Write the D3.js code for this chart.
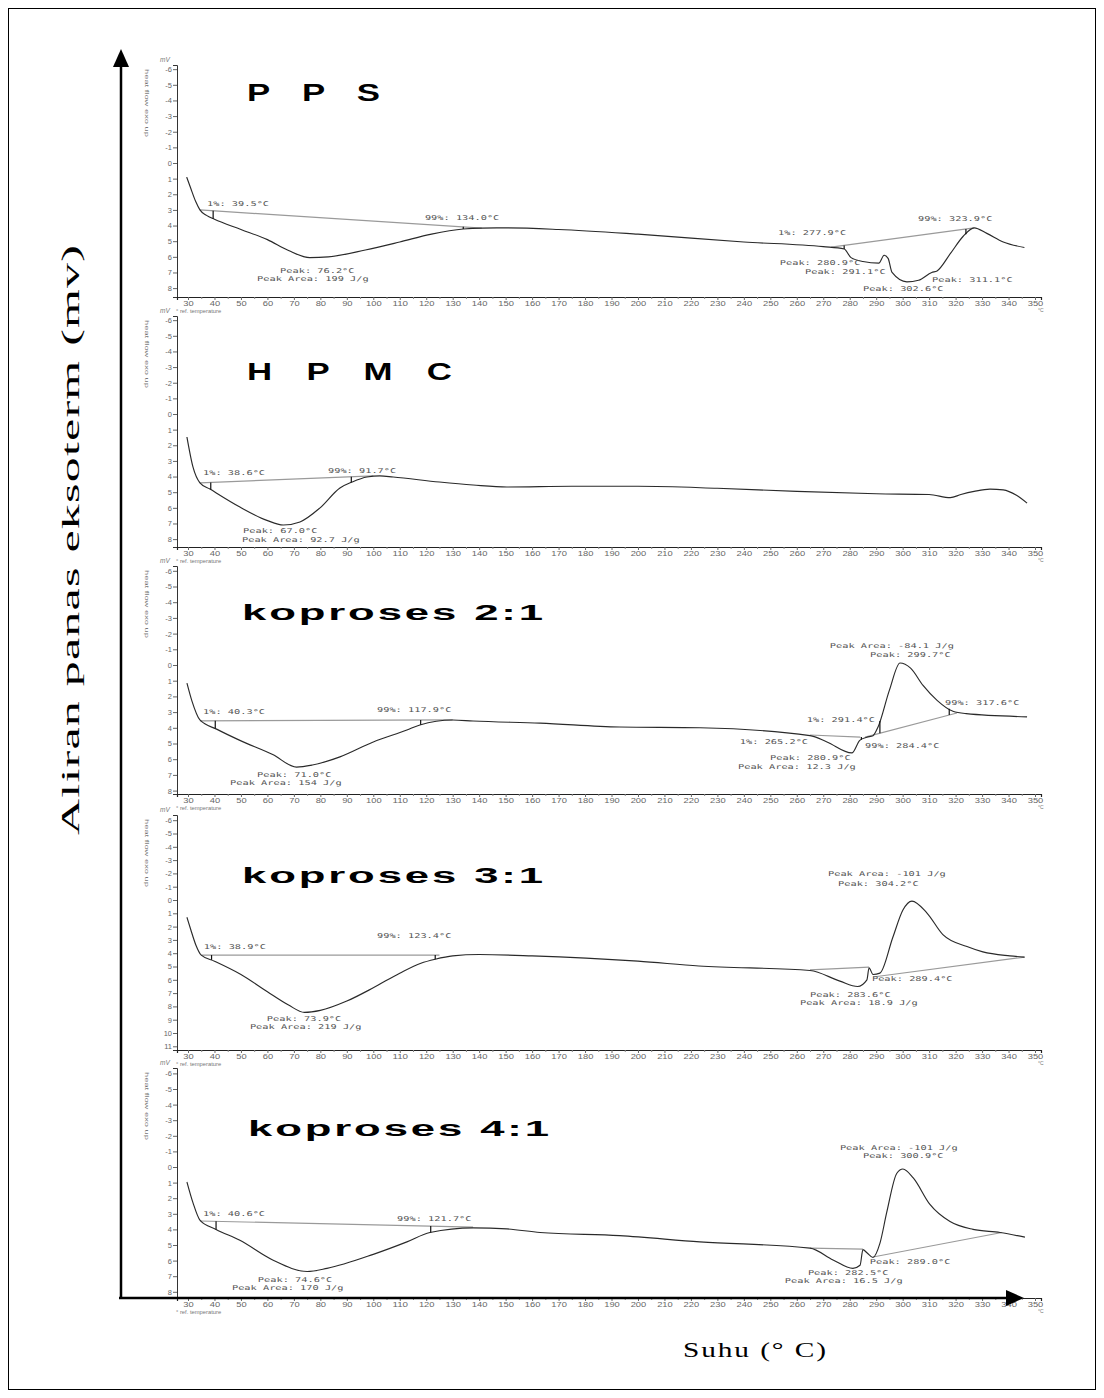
<!DOCTYPE html>
<html>
<head>
<meta charset="utf-8">
<script src="https://cdn.jsdelivr.net/npm/d3@7"></script>
<style>
  body { margin: 0; background: #fff; }
  .tick text { font-family: "Liberation Sans", Arial, sans-serif; fill: #666; }
  .note { font-family: "DejaVu Sans Mono", monospace; font-size: 6.6px; fill: #555; }
  .small { font-family: "Liberation Sans", Arial, sans-serif; fill: #777; }
</style>
</head>
<body>
<svg id="chart" width="1104" height="1398"></svg>
<script>
// ---- data (temperature in °C, heat flow in mW) ----
var titles = ["P P S", "H P M C", "koproses 2:1", "koproses 3:1", "koproses 4:1"];

var xTickLabels = [30, 40, 50, 60, 70, 80, 90, 100, 110, 120, 130, 140, 150, 160, 170, 180, 190, 200,
                   210, 220, 230, 240, 250, 260, 270, 280, 290, 300, 310, 320, 330, 340, 350];
var yTicksShort = [-6, -5, -4, -3, -2, -1, 0, 1, 2, 3, 4, 5, 6, 7, 8];
var yTicksLong = [-6, -5, -4, -3, -2, -1, 0, 1, 2, 3, 4, 5, 6, 7, 8, 9, 10, 11];

var ppsCurve = [[29.5,0.9],[31,1.6],[33,2.5],[34.5,3.0],[37,3.35],[40,3.6],[50,4.25],[60,4.9],[68,5.6],
  [76,6.05],[83,6.0],[97,5.56],[110,5.05],[122,4.55],[134,4.22],[141,4.16],[150,4.15],[170,4.25],
  [200,4.55],[240,5.05],[270,5.35],[277.9,5.5],[280.5,6.05],[285,6.3],[291,6.4],[293,5.9],[294.5,6.1],
  [296,7.0],[301.6,7.6],[306,7.5],[311,7.0],[313,6.9],[318,5.8],[322.8,4.7],[327,4.15],[331.8,4.5],
  [338,5.05],[346,5.4]];
var ppsBaselines = [[[34.5,3.0],[141,4.16]], [[273,5.38],[327,4.15]]];
var ppsMarkers = [[39.5,0],[134,0],[277.9,1],[323.9,1]];
var ppsNotes = [["1%: 39.5°C",37.2,2.62],["99%: 134.0°C",119.5,3.52],["Peak: 76.2°C",64.8,6.9],
  ["Peak Area: 199 J/g",56.1,7.42],["1%: 277.9°C",252.9,4.48],["99%: 323.9°C",305.8,3.58],
  ["Peak: 280.9°C",253.6,6.4],["Peak: 291.1°C",263.1,6.95],["Peak: 311.1°C",311.1,7.48],
  ["Peak: 302.6°C",285,8.06]];

var hpmcCurve = [[29.6,1.47],[31.9,3.4],[34.5,4.4],[38.3,4.8],[49.6,5.95],[59.8,6.8],[66,7.1],[72.3,6.9],
  [79.9,6.0],[87.4,4.73],[92,4.35],[97.6,4.03],[102.5,3.96],[107.5,4.03],[125,4.35],[137.7,4.54],
  [150.5,4.67],[175,4.62],[200,4.62],[230,4.75],[260,4.95],[290,5.1],[310,5.15],[318,5.35],[322,5.15],
  [327,4.95],[333,4.8],[338,4.85],[343,5.2],[347,5.7]];
var hpmcBaselines = [[[34.5,4.4],[100,3.96]]];
var hpmcMarkers = [[38.6,0],[91.7,0]];
var hpmcNotes = [["1%: 38.6°C",35.7,3.77],["99%: 91.7°C",82.9,3.64],["Peak: 67.0°C",50.8,7.48],
  ["Peak Area: 92.7 J/g",50.4,8.06]];

var k21Curve = [[29.6,1.15],[31.5,2.3],[34.5,3.5],[41,4.1],[49.6,4.8],[62,5.7],[71,6.5],[77,6.37],
  [87.4,5.85],[100,4.9],[112.7,4.14],[117.6,3.82],[130,3.5],[137.7,3.57],[163,3.7],[193,3.95],
  [223.4,4.0],[265,4.5],[271.4,4.9],[280.8,5.6],[283.8,4.8],[286.5,4.6],[288.8,4.5],[290.7,3.95],
  [295,1.6],[299,-0.13],[303,0.2],[307.7,1.3],[313,2.25],[319,2.95],[324,3.1],[347,3.3]];
var k21Baselines = [[[34.5,3.56],[130,3.5]], [[265,4.46],[284,4.59]], [[285.8,4.59],[320.5,3.06]]];
var k21Markers = [[40.3,0],[117.9,0],[284.4,1],[291.4,2],[317.6,2]];
var k21Notes = [["1%: 40.3°C",35.7,3.0],["99%: 117.9°C",101.4,2.87],["Peak: 71.0°C",56.1,7.0],
  ["Peak Area: 154 J/g",45.9,7.5],["Peak Area: -84.1 J/g",272.5,-1.25],["Peak: 299.7°C",287.7,-0.68],
  ["1%: 291.4°C",263.8,3.5],["99%: 317.6°C",316,2.42],["1%: 265.2°C",238.5,4.9],
  ["99%: 284.4°C",285.8,5.16],["Peak: 280.9°C",249.9,5.9],["Peak Area: 12.3 J/g",237.8,6.45]];

var k31Curve = [[29.6,1.3],[31,2.2],[33,3.4],[35,4.15],[40,4.6],[50,5.6],[60,6.9],[68,7.9],[74,8.45],
  [80,8.3],[90,7.6],[100,6.6],[110,5.5],[118,4.75],[123.4,4.45],[130,4.2],[140,4.1],[160,4.2],
  [200,4.6],[223,4.96],[265,5.3],[276.3,6.1],[283,6.5],[286.5,6.0],[287.3,5.1],[288.8,5.6],
  [291.4,5.5],[296.3,2.8],[300.1,0.75],[303.5,0.08],[309.2,0.98],[315.2,2.6],[324.3,3.5],
  [330.3,3.9],[340.5,4.2],[346,4.3]];
var k31Baselines = [[[35,4.14],[125,4.14]], [[265,5.26],[287.3,5.04]], [[288.8,5.79],[346.2,4.29]]];
var k31Markers = [[38.9,0],[123.4,0]];
var k31Notes = [["1%: 38.9°C",36,3.53],["99%: 123.4°C",101.4,2.7],["Peak: 73.9°C",59.8,8.9],
  ["Peak Area: 219 J/g",53.4,9.5],["Peak Area: -101 J/g",271.8,-1.95],["Peak: 304.2°C",275.6,-1.25],
  ["Peak: 289.4°C",288.4,5.94],["Peak: 283.6°C",265,7.1],["Peak Area: 18.9 J/g",261.2,7.7]];

var k41Curve = [[29.6,0.96],[31.9,2.3],[34.5,3.4],[40.6,4.0],[49.6,4.7],[62,5.96],[75,6.7],[82.5,6.5],
  [100,5.6],[112.7,4.8],[121.4,4.2],[137.7,3.9],[150.5,3.97],[163,4.2],[193,4.4],[223.4,4.8],
  [265,5.2],[273.7,5.96],[281.2,6.5],[283.9,6.3],[285,5.3],[286.5,5.5],[288.8,5.8],[291.4,4.9],
  [294,2.9],[297.8,0.4],[300.1,0.13],[304,0.7],[310.3,2.4],[317.9,3.5],[326.6,4.0],[336.8,4.2],
  [346.2,4.5]];
var k41Baselines = [[[34.5,3.46],[137.7,3.85]], [[265,5.2],[285,5.26]], [[288.8,5.77],[337.5,4.2]]];
var k41Markers = [[40.6,0],[121.7,0]];
var k41Notes = [["1%: 40.6°C",35.7,3.0],["99%: 121.7°C",109,3.33],["Peak: 74.6°C",56.4,7.2],
  ["Peak Area: 170 J/g",46.6,7.75],["Peak Area: -101 J/g",276.3,-1.25],["Peak: 300.9°C",285,-0.7],
  ["Peak: 289.0°C",287.6,6.1],["Peak: 282.5°C",264.2,6.8],["Peak Area: 16.5 J/g",255.5,7.3]];

// ---- layout ----
var panels = [
  {curve: ppsCurve, base: ppsBaselines, marks: ppsMarkers, notes: ppsNotes, ticks: yTicksShort,
   top: 65, axisY: 297, zero: 163, step: 15.64, titleX: 247, titleY: 101, titleW: 133, titleSize: 24, titleStretch: 1.45},
  {curve: hpmcCurve, base: hpmcBaselines, marks: hpmcMarkers, notes: hpmcNotes, ticks: yTicksShort,
   top: 316, axisY: 547, zero: 414, step: 15.64, titleX: 247, titleY: 380, titleW: 205, titleSize: 24, titleStretch: 1.45},
  {curve: k21Curve, base: k21Baselines, marks: k21Markers, notes: k21Notes, ticks: yTicksShort,
   top: 566, axisY: 794, zero: 665, step: 15.7, titleX: 242, titleY: 620, titleW: 301, titleSize: 23, titleStretch: 1.9},
  {curve: k31Curve, base: k31Baselines, marks: k31Markers, notes: k31Notes, ticks: yTicksLong,
   top: 815, axisY: 1050, zero: 900, step: 13.3, titleX: 242, titleY: 883, titleW: 301, titleSize: 23, titleStretch: 1.9},
  {curve: k41Curve, base: k41Baselines, marks: k41Markers, notes: k41Notes, ticks: yTicksShort,
   top: 1068, axisY: 1298, zero: 1167, step: 15.6, titleX: 248, titleY: 1136, titleW: 301, titleSize: 23, titleStretch: 1.9}
];

var svg = d3.select("#chart");

// outer frame
svg.append("rect").attr("x", 8.5).attr("y", 8.5).attr("width", 1087).attr("height", 1381)
  .attr("fill", "none").attr("stroke", "#000").attr("stroke-width", 1);

// same temperature mapping for every panel
var x = d3.scaleLinear().domain([30, 350]).range([188, 1035]);
var xLeft = x.invert(177), xRight = x.invert(1041);

function interp(pts, t) {
  for (var i = 0; i < pts.length - 1; i++) {
    if (t >= pts[i][0] && t <= pts[i + 1][0]) {
      var f = (t - pts[i][0]) / (pts[i + 1][0] - pts[i][0]);
      return pts[i][1] + f * (pts[i + 1][1] - pts[i][1]);
    }
  }
  return pts[pts.length - 1][1];
}

// the scanned figure is widened along the text direction
function wideText(parent, tx, ty, rot, str, width, stretch, font, size, weight) {
  return parent.append("g")
    .attr("transform", "translate(" + tx + "," + ty + ") rotate(" + rot + ") scale(" + stretch + ",1)")
    .append("text").text(str)
    .attr("textLength", width / stretch).attr("lengthAdjust", "spacing")
    .style("font-family", font).style("font-size", size + "px").style("font-weight", weight)
    .attr("fill", "#000");
}

panels.forEach(function(p, i) {
  var y = d3.scaleLinear()
    .domain([(p.top - p.zero) / p.step, (p.axisY - p.zero) / p.step])
    .range([p.top, p.axisY]);
  var xs = x.copy().domain([xLeft, xRight]).range([x(xLeft), x(xRight)]);

  var g = svg.append("g");

  // y axis
  var yAxis = g.append("g").attr("transform", "translate(177,0)")
    .call(d3.axisLeft(y).tickValues(p.ticks).tickSize(4).tickPadding(1)
      .tickFormat(function(d) { return String(d); }));
  yAxis.select(".domain").attr("stroke", "#333");
  yAxis.selectAll(".tick line").attr("stroke", "#666");
  yAxis.selectAll(".tick text").style("font-size", "7.5px");

  // x axis, major + minor ticks
  var xAxis = g.append("g").attr("transform", "translate(0," + p.axisY + ")")
    .call(d3.axisBottom(xs).tickValues(xTickLabels).tickSize(3).tickPadding(1));
  xAxis.select(".domain").attr("stroke", "#222").attr("stroke-width", 1.2);
  xAxis.selectAll(".tick line").attr("stroke", "#666");
  xAxis.selectAll(".tick text").style("font-size", "7.5px").attr("textLength", function(d) {
    return String(d).length * 5.2;
  }).attr("lengthAdjust", "spacingAndGlyphs");
  var minor = g.append("g").attr("transform", "translate(0," + p.axisY + ")")
    .call(d3.axisBottom(xs).tickValues(xTickLabels.slice(0, -1).map(function(d) { return d + 5; }))
      .tickSize(2).tickFormat(""));
  minor.select(".domain").remove();
  minor.selectAll(".tick line").attr("stroke", "#888");

  // small axis captions
  g.append("text").attr("class", "small").attr("x", 160).attr("y", p.top - 3).text("mV")
    .style("font-size", "6.5px").style("font-style", "italic");
  g.append("text").attr("class", "small")
    .attr("transform", "translate(145," + (p.top + 4) + ") rotate(90)")
    .text("heat flow exo up").attr("textLength", 68).attr("lengthAdjust", "spacingAndGlyphs")
    .style("font-size", "6px");
  g.append("text").attr("class", "small").attr("x", 176).attr("y", p.axisY + 15.5)
    .text("° ref. temperature").style("font-size", "5.8px");
  g.append("text").attr("class", "small").attr("x", 1038).attr("y", p.axisY + 15)
    .text("°C").style("font-size", "5px");

  // title
  wideText(g, p.titleX, p.titleY, 0, titles[i], p.titleW, p.titleStretch,
    "Liberation Sans, Arial, sans-serif", p.titleSize, "bold");

  // integration baselines
  var line = d3.line().x(function(d) { return x(d[0]); }).y(function(d) { return y(d[1]); });
  g.selectAll(".base").data(p.base).enter().append("path")
    .attr("d", line).attr("fill", "none").attr("stroke", "#9a9a9a").attr("stroke-width", 1.2);

  // DSC trace
  g.append("path").datum(p.curve)
    .attr("d", line.curve(d3.curveMonotoneX))
    .attr("fill", "none").attr("stroke", "#2a2a2a").attr("stroke-width", 1.15);

  // onset / end markers
  g.selectAll(".mark").data(p.marks).enter().append("line")
    .attr("x1", function(d) { return x(d[0]); }).attr("x2", function(d) { return x(d[0]); })
    .attr("y1", function(d) { return y(interp(p.base[d[1]], d[0])); })
    .attr("y2", function(d) { return y(interp(p.curve, d[0])); })
    .attr("stroke", "#111").attr("stroke-width", 1.2);

  // annotations
  g.selectAll(".note").data(p.notes).enter().append("text")
    .attr("class", "note")
    .attr("x", function(d) { return x(d[1]); })
    .attr("y", function(d) { return y(d[2]) + 2.3; })
    .attr("textLength", function(d) { return d[0].length * 6.2; })
    .attr("lengthAdjust", "spacingAndGlyphs")
    .text(function(d) { return d[0]; });
});

// big axis arrows
svg.append("line").attr("x1", 121).attr("y1", 1299).attr("x2", 121).attr("y2", 62)
  .attr("stroke", "#000").attr("stroke-width", 2.5);
svg.append("path").attr("d", "M121,49 L113,67 L129,67 Z").attr("fill", "#000");
svg.append("line").attr("x1", 119).attr("y1", 1298).attr("x2", 1010).attr("y2", 1298)
  .attr("stroke", "#000").attr("stroke-width", 2.5);
svg.append("path").attr("d", "M1024,1298 L1006,1290 L1006,1306 Z").attr("fill", "#000");

// axis titles
wideText(svg, 79, 835, -90, "Aliran panas eksoterm (mv)", 590, 2.0,
  "Liberation Serif, Times New Roman, serif", 25, "normal");
wideText(svg, 683, 1357, 0, "Suhu (° C)", 143, 1.4,
  "Liberation Serif, Times New Roman, serif", 21, "normal");
</script>
</body>
</html>
